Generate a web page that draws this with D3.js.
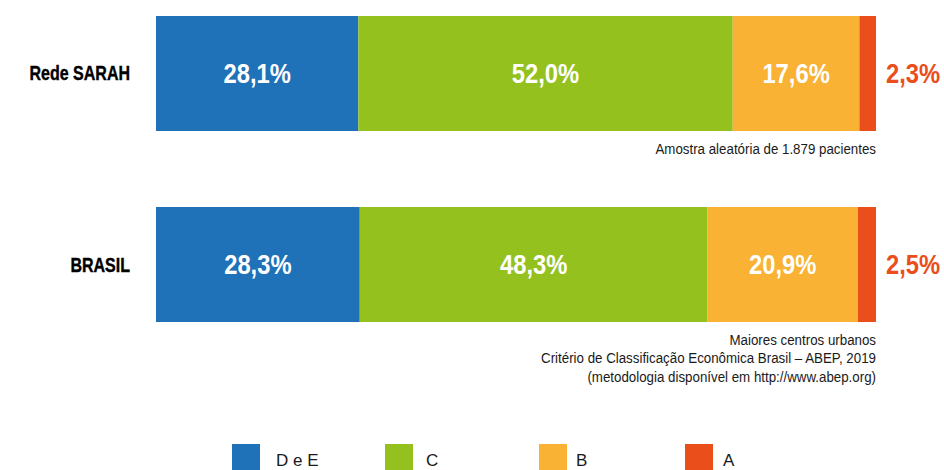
<!DOCTYPE html>
<html>
<head>
<meta charset="utf-8">
<script src="https://cdn.jsdelivr.net/npm/d3@7"></script>
<style>
  body { margin: 0; background: #fff; }
  svg { display: block; }
</style>
</head>
<body>
<div id="chart"></div>
<script>
(function () {
    // dados
    const groups = ["Rede SARAH", "BRASIL"];
    const classes = ["D e E", "C", "B", "A"];
    const sarahValues = [28.1, 52.0, 17.6, 2.3];
    const brasilValues = [28.3, 48.3, 20.9, 2.5];
    const notes = [
        ["Amostra aleatória de 1.879 pacientes"],
        ["Maiores centros urbanos",
         "Critério de Classificação Econômica Brasil – ABEP, 2019",
         "(metodologia disponível em http://www.abep.org)"]
    ];
    const colors = ["#1f71b8", "#95c11f", "#f9b233", "#e94e1b"];

    const width = 944, height = 470;
    const font = "'Liberation Sans', Arial, Helvetica, sans-serif";

    const svg = d3.select("#chart").append("svg")
        .attr("width", width)
        .attr("height", height);

    const x = d3.scaleLinear().domain([0, 100]).range([156, 876]);
    const y = d3.scaleBand().domain(groups).range([16, 322]).paddingInner(0.398).paddingOuter(0);

    const fmt = v => v.toFixed(1).replace(".", ",") + "%";
    // texto "condensado": escala horizontal
    const squeeze = (tx, ty, sx) => `translate(${tx},${ty}) scale(${sx},1)`;

    const rows = [sarahValues, brasilValues].map((vals, i) => {
        let acc = 0;
        return {
            group: groups[i],
            segs: vals.map((v, j) => {
                const s = { cls: classes[j], x0: acc, x1: acc + v, v: v, j: j };
                acc += v;
                return s;
            })
        };
    });

    const row = svg.selectAll(".row")
        .data(rows)
        .enter().append("g")
        .attr("class", "row")
        .attr("transform", d => `translate(0,${y(d.group)})`);

    // barras
    row.selectAll("rect")
        .data(d => d.segs)
        .enter().append("rect")
        .attr("x", d => x(d.x0))
        .attr("width", d => x(d.x1) - x(d.x0))
        .attr("height", y.bandwidth())
        .attr("fill", d => colors[d.j]);

    // rótulos dos grupos
    row.append("text")
        .attr("transform", squeeze(130, y.bandwidth() / 2, 0.8))
        .attr("dy", "0.35em")
        .attr("text-anchor", "end")
        .style("font-family", font)
        .style("font-weight", "bold")
        .style("font-size", "20px")
        .style("stroke", "#000")
        .style("stroke-width", "0.4px")
        .attr("fill", "#000")
        .text(d => d.group);

    // valores
    row.selectAll(".val")
        .data(d => d.segs)
        .enter().append("text")
        .attr("class", "val")
        .attr("transform", d => squeeze(d.j === 3 ? 913 : (x(d.x0) + x(d.x1)) / 2, y.bandwidth() / 2, 0.88))
        .attr("dy", "0.36em")
        .attr("text-anchor", "middle")
        .style("font-family", font)
        .style("font-weight", "bold")
        .style("font-size", "27px")
        .attr("fill", d => d.j === 3 ? colors[3] : "#fff")
        .text(d => fmt(d.v));

    // notas
    row.append("text")
        .attr("transform", squeeze(876, y.bandwidth() + 23, 0.86))
        .attr("text-anchor", "end")
        .style("font-family", font)
        .style("font-size", "15.5px")
        .attr("fill", "#1a1a1a")
        .selectAll("tspan")
        .data((d, i) => notes[i])
        .enter().append("tspan")
        .attr("x", 0)
        .attr("y", (d, k) => k * 18.3)
        .text(d => d);

    // legenda
    const legendX = [232, 385, 539, 685];
    const labelX = [276, 426, 576, 723];
    const legend = svg.selectAll(".legend")
        .data(classes)
        .enter().append("g")
        .attr("class", "legend");

    legend.append("rect")
        .attr("x", (d, i) => legendX[i])
        .attr("y", 444)
        .attr("width", 28)
        .attr("height", 28)
        .attr("fill", (d, i) => colors[i]);

    legend.append("text")
        .attr("x", (d, i) => labelX[i])
        .attr("y", 466)
        .style("font-family", font)
        .style("font-size", "17px")
        .attr("fill", "#1a1a1a")
        .text(d => d);
})();
</script>
</body>
</html>
